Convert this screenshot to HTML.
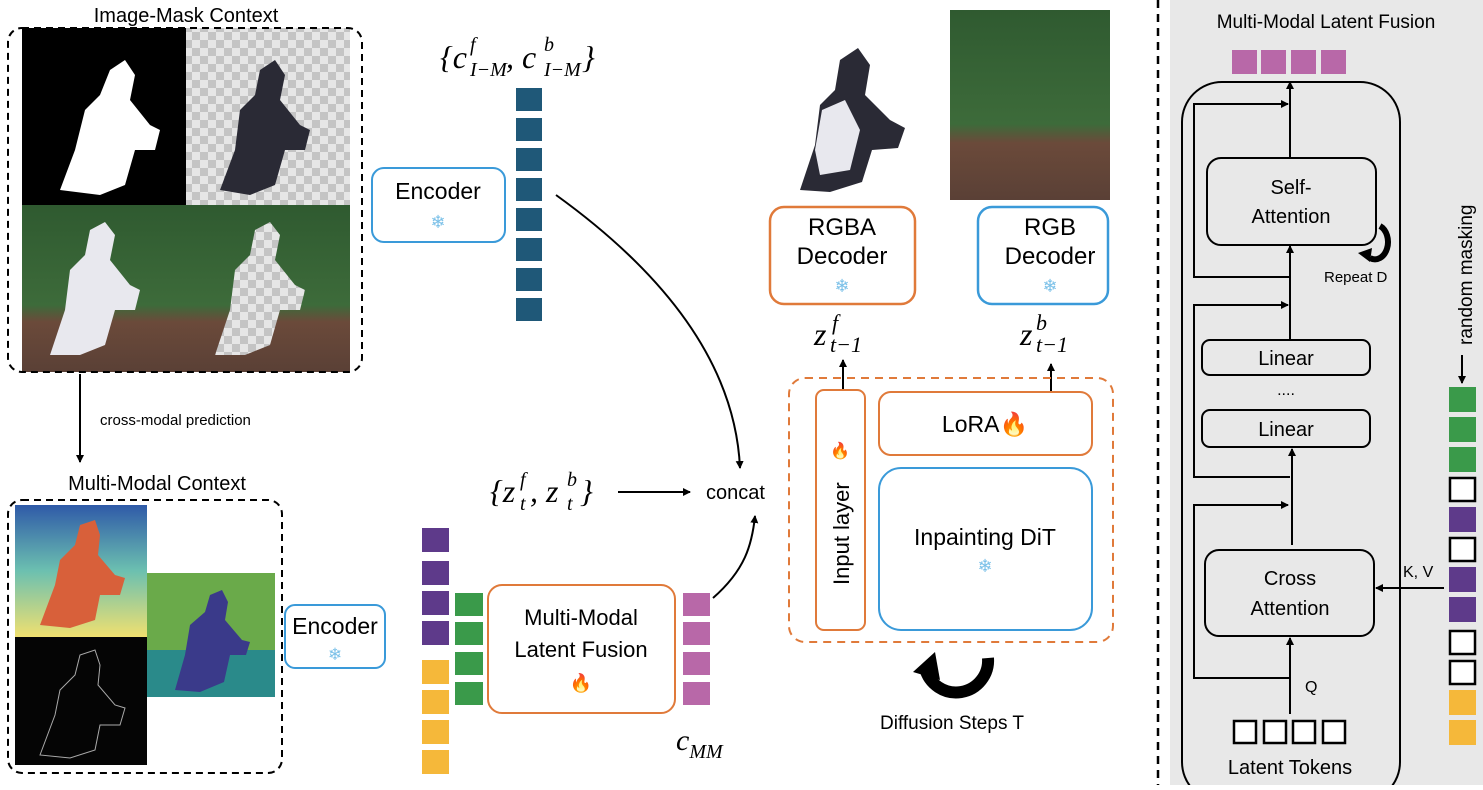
<!DOCTYPE html>
<html><head><meta charset="utf-8"><style>
body{margin:0;background:#fff}
svg text{font-family:"Liberation Sans",sans-serif}
.m{font-family:"Liberation Serif",serif;font-style:italic}
</style></head><body>
<svg width="1483" height="785" viewBox="0 0 1483 785" xmlns="http://www.w3.org/2000/svg">
<defs>
<marker id="a" markerWidth="8" markerHeight="8" refX="7" refY="4" orient="auto" markerUnits="userSpaceOnUse"><path d="M0,0 L8,4 L0,8 z" fill="#000"/></marker>
<pattern id="ck" width="16" height="16" patternUnits="userSpaceOnUse"><rect width="16" height="16" fill="#e6e6e6"/><rect width="8" height="8" fill="#c4c4c4"/><rect x="8" y="8" width="8" height="8" fill="#c4c4c4"/></pattern>
<linearGradient id="fld" x1="0" y1="0" x2="0" y2="1"><stop offset="0" stop-color="#2f5a30"/><stop offset="0.6" stop-color="#3d6b3a"/><stop offset="0.7" stop-color="#6b4a3a"/><stop offset="1" stop-color="#5a4036"/></linearGradient>
<linearGradient id="dep" x1="0" y1="0" x2="0" y2="1"><stop offset="0" stop-color="#2f5aa8"/><stop offset="0.5" stop-color="#6cc0b0"/><stop offset="1" stop-color="#f0e070"/></linearGradient>
</defs>

<text x="186" y="22" font-size="20" text-anchor="middle">Image-Mask Context</text>
<rect x="22" y="28" width="164" height="177" fill="#000"/>
<path d="M60,190 L75,150 L85,110 L100,95 L110,70 L125,60 L135,75 L130,100 L150,125 L160,130 L155,150 L135,150 L125,185 L100,195 Z" fill="#fff"/>
<rect x="186" y="28" width="164" height="177" fill="url(#ck)"/>
<path d="M220,190 L235,150 L240,110 L255,95 L260,70 L275,60 L285,75 L280,100 L300,125 L310,130 L305,150 L285,150 L275,185 L250,195 Z" fill="#2a2a35"/>
<rect x="22" y="205" width="164" height="167" fill="url(#fld)"/>
<path d="M50,355 L65,310 L70,270 L85,255 L90,230 L105,222 L115,235 L110,260 L130,285 L140,290 L135,310 L115,310 L105,345 L80,355 Z" fill="#e8e8ee"/>
<rect x="186" y="205" width="164" height="167" fill="url(#fld)"/>
<path d="M215,355 L230,310 L235,270 L250,255 L255,230 L270,222 L280,235 L275,260 L295,285 L305,290 L300,310 L280,310 L270,345 L245,355 Z" fill="url(#ck)"/>
<rect x="8" y="28" width="354" height="344" rx="14" fill="none" stroke="#000" stroke-width="2" stroke-dasharray="7,5"/>

<line x1="80" y1="374" x2="80" y2="462" stroke="#000" stroke-width="2" marker-end="url(#a)"/>
<text x="100" y="425" font-size="15">cross-modal prediction</text>

<text x="157" y="490" font-size="20" text-anchor="middle">Multi-Modal Context</text>
<rect x="15" y="505" width="132" height="132" fill="url(#dep)"/>
<path d="M40,625 L55,585 L60,560 L75,545 L80,525 L95,520 L100,535 L98,555 L115,575 L125,578 L120,595 L100,595 L95,620 L70,628 Z" fill="#d8603a"/>
<rect x="147" y="573" width="128" height="124" fill="#6aaa4a"/>
<rect x="147" y="650" width="128" height="47" fill="#2a8a8a"/>
<path d="M175,690 L185,655 L190,625 L205,612 L210,595 L222,590 L228,602 L225,620 L242,640 L250,642 L246,655 L230,655 L224,682 L200,692 Z" fill="#3a3a8a"/>
<rect x="15" y="637" width="132" height="128" fill="#050505"/>
<path d="M40,755 L55,715 L60,690 L75,675 L80,655 L95,650 L100,665 L98,685 L115,705 L125,708 L120,725 L100,725 L95,750 L70,758 Z" fill="none" stroke="#aaa" stroke-width="1"/>
<rect x="8" y="500" width="274" height="273" rx="14" fill="none" stroke="#000" stroke-width="2" stroke-dasharray="7,5"/>

<rect x="372" y="168" width="133" height="74" rx="12" fill="#fff" stroke="#3a9ad9" stroke-width="2"/>
<text x="438" y="199" font-size="23" text-anchor="middle">Encoder</text>
<text x="438" y="228" font-size="18" text-anchor="middle" fill="#7ac0e8">❄</text>
<rect x="285" y="605" width="100" height="63" rx="10" fill="#fff" stroke="#3a9ad9" stroke-width="2"/>
<text x="335" y="634" font-size="23" text-anchor="middle">Encoder</text>
<text x="335" y="660" font-size="17" text-anchor="middle" fill="#7ac0e8">❄</text>

<g class="m">
<text x="440" y="68" font-size="32" class="m">{c</text>
<text x="470" y="51" font-size="20" class="m">f</text>
<text x="470" y="76" font-size="20" class="m">I−M</text>
<text x="506" y="68" font-size="32" class="m">, c</text>
<text x="544" y="51" font-size="20" class="m">b</text>
<text x="544" y="76" font-size="20" class="m">I−M</text>
<text x="582" y="68" font-size="32" class="m">}</text>
</g>

<g fill="#1f5878">
<rect x="516" y="88" width="26" height="23"/><rect x="516" y="118" width="26" height="23"/><rect x="516" y="148" width="26" height="23"/><rect x="516" y="178" width="26" height="23"/><rect x="516" y="208" width="26" height="23"/><rect x="516" y="238" width="26" height="23"/><rect x="516" y="268" width="26" height="23"/><rect x="516" y="298" width="26" height="23"/>
</g>
<path d="M556,195 C660,270 735,360 740,468" fill="none" stroke="#000" stroke-width="2" marker-end="url(#a)"/>

<g fill="#5e3a8a"><rect x="422" y="528" width="27" height="24"/><rect x="422" y="561" width="27" height="24"/><rect x="422" y="591" width="27" height="24"/><rect x="422" y="621" width="27" height="24"/></g>
<g fill="#f5b83a"><rect x="422" y="660" width="27" height="24"/><rect x="422" y="690" width="27" height="24"/><rect x="422" y="720" width="27" height="24"/><rect x="422" y="750" width="27" height="24"/></g>
<g fill="#3a9a4a"><rect x="455" y="593" width="28" height="23"/><rect x="455" y="622" width="28" height="23"/><rect x="455" y="652" width="28" height="23"/><rect x="455" y="682" width="28" height="23"/></g>
<rect x="488" y="585" width="187" height="128" rx="14" fill="#fff" stroke="#e07a3a" stroke-width="2"/>
<text x="581" y="625" font-size="22" text-anchor="middle">Multi-Modal</text>
<text x="581" y="657" font-size="22" text-anchor="middle">Latent Fusion</text>
<text x="581" y="689" font-size="18" text-anchor="middle">🔥</text>
<g fill="#b868a8"><rect x="683" y="593" width="27" height="23"/><rect x="683" y="622" width="27" height="23"/><rect x="683" y="652" width="27" height="23"/><rect x="683" y="682" width="27" height="23"/></g>
<text x="676" y="750" font-size="30" class="m">c<tspan font-size="20" dy="8">MM</tspan></text>
<path d="M713,598 C745,570 752,545 755,516" fill="none" stroke="#000" stroke-width="2" marker-end="url(#a)"/>

<text x="490" y="502" font-size="32" class="m">{z</text>
<text x="520" y="486" font-size="20" class="m">f</text>
<text x="520" y="510" font-size="20" class="m">t</text>
<text x="530" y="502" font-size="32" class="m">, z</text>
<text x="567" y="486" font-size="20" class="m">b</text>
<text x="567" y="510" font-size="20" class="m">t</text>
<text x="580" y="502" font-size="32" class="m">}</text>
<line x1="618" y1="492" x2="690" y2="492" stroke="#000" stroke-width="2" marker-end="url(#a)"/>
<text x="706" y="499" font-size="20">concat</text>

<path d="M800,190 L815,145 L820,105 L835,90 L840,60 L858,48 L870,65 L865,95 L890,120 L905,128 L898,148 L872,150 L862,182 L830,192 Z" fill="#2a2a35"/>
<path d="M815,150 L822,110 L845,100 L860,130 L850,170 L820,175Z" fill="#e8e8ee"/>
<rect x="950" y="10" width="160" height="190" fill="url(#fld)"/>

<rect x="770" y="207" width="145" height="97" rx="14" fill="#fff" stroke="#e07a3a" stroke-width="2.5"/>
<text x="842" y="235" font-size="24" text-anchor="middle">RGBA</text>
<text x="842" y="264" font-size="24" text-anchor="middle">Decoder</text>
<text x="842" y="292" font-size="18" text-anchor="middle" fill="#7ac0e8">❄</text>
<rect x="978" y="207" width="130" height="97" rx="14" fill="#fff" stroke="#3a9ad9" stroke-width="2.5"/>
<text x="1050" y="235" font-size="24" text-anchor="middle">RGB</text>
<text x="1050" y="264" font-size="24" text-anchor="middle">Decoder</text>
<text x="1050" y="292" font-size="18" text-anchor="middle" fill="#7ac0e8">❄</text>
<text x="814" y="345" font-size="32" class="m">z</text>
<text x="832" y="330" font-size="22" class="m">f</text>
<text x="830" y="352" font-size="22" class="m">t−1</text>
<text x="1020" y="345" font-size="32" class="m">z</text>
<text x="1036" y="330" font-size="22" class="m">b</text>
<text x="1036" y="352" font-size="22" class="m">t−1</text>
<line x1="843" y1="390" x2="843" y2="360" stroke="#000" stroke-width="2" marker-end="url(#a)"/>
<line x1="1051" y1="392" x2="1051" y2="364" stroke="#000" stroke-width="2" marker-end="url(#a)"/>

<rect x="789" y="378" width="324" height="264" rx="16" fill="none" stroke="#e07a3a" stroke-width="2" stroke-dasharray="8,6"/>
<rect x="816" y="390" width="49" height="240" rx="8" fill="#fff" stroke="#e07a3a" stroke-width="2"/>
<text transform="translate(849,585) rotate(-90)" font-size="22">Input layer</text>
<text x="840" y="456" font-size="16" text-anchor="middle">🔥</text>
<rect x="879" y="392" width="213" height="63" rx="12" fill="#fff" stroke="#e07a3a" stroke-width="2"/>
<text x="985" y="432" font-size="23" text-anchor="middle">LoRA🔥</text>
<rect x="879" y="468" width="213" height="162" rx="22" fill="#fff" stroke="#3a9ad9" stroke-width="2"/>
<text x="985" y="545" font-size="23" text-anchor="middle">Inpainting DiT</text>
<text x="985" y="572" font-size="18" text-anchor="middle" fill="#7ac0e8">❄</text>
<path d="M925,668 A32,32 0 0 0 988,658" fill="none" stroke="#000" stroke-width="12"/>
<path d="M913,672 L935,652 L940,680 Z" fill="#000"/>
<text x="952" y="729" font-size="19" text-anchor="middle">Diffusion Steps T</text>

<line x1="1158" y1="0" x2="1158" y2="785" stroke="#000" stroke-width="2.5" stroke-dasharray="8,6"/>
<rect x="1170" y="0" width="313" height="785" fill="#e8e8e8"/>
<text x="1326" y="28" font-size="19" text-anchor="middle">Multi-Modal Latent Fusion</text>
<g fill="#b868a8"><rect x="1232" y="50" width="25" height="24"/><rect x="1261" y="50" width="25" height="24"/><rect x="1291" y="50" width="25" height="24"/><rect x="1321" y="50" width="25" height="24"/></g>
<rect x="1182" y="82" width="218" height="720" rx="40" fill="none" stroke="#000" stroke-width="2"/>

<g stroke="#000" stroke-width="2" fill="none">
<line x1="1290" y1="158" x2="1290" y2="82" marker-end="url(#a)"/>
<polyline points="1290,277 1194,277 1194,104 1288,104" marker-end="url(#a)"/>
<line x1="1290" y1="340" x2="1290" y2="246" marker-end="url(#a)"/>
<polyline points="1290,477 1194,477 1194,305 1288,305" marker-end="url(#a)"/>
<line x1="1292" y1="545" x2="1292" y2="449" marker-end="url(#a)"/>
<polyline points="1290,678 1194,678 1194,505 1288,505" marker-end="url(#a)"/>
<line x1="1290" y1="714" x2="1290" y2="638" marker-end="url(#a)"/>
<line x1="1444" y1="588" x2="1376" y2="588" marker-end="url(#a)"/>
<line x1="1462" y1="355" x2="1462" y2="383" marker-end="url(#a)"/>
</g>
<path d="M1380,226 A12,16 0 0 1 1370,258" fill="none" stroke="#000" stroke-width="6"/>
<path d="M1358,253 L1372,248 L1370,262 Z" fill="#000"/>

<rect x="1207" y="158" width="169" height="87" rx="14" fill="#e8e8e8" stroke="#000" stroke-width="2"/>
<text x="1291" y="194" font-size="20" text-anchor="middle">Self-</text>
<text x="1291" y="223" font-size="20" text-anchor="middle">Attention</text>
<text x="1324" y="282" font-size="15">Repeat D</text>
<rect x="1202" y="340" width="168" height="35" rx="8" fill="#e8e8e8" stroke="#000" stroke-width="2"/>
<text x="1286" y="365" font-size="20" text-anchor="middle">Linear</text>
<text x="1286" y="395" font-size="16" text-anchor="middle">....</text>
<rect x="1202" y="410" width="168" height="37" rx="8" fill="#e8e8e8" stroke="#000" stroke-width="2"/>
<text x="1286" y="436" font-size="20" text-anchor="middle">Linear</text>
<rect x="1205" y="550" width="169" height="86" rx="14" fill="#e8e8e8" stroke="#000" stroke-width="2"/>
<text x="1290" y="585" font-size="20" text-anchor="middle">Cross</text>
<text x="1290" y="615" font-size="20" text-anchor="middle">Attention</text>
<text x="1403" y="577" font-size="16">K, V</text>
<text x="1305" y="692" font-size="16">Q</text>
<g fill="#fff" stroke="#000" stroke-width="2.5"><rect x="1234" y="721" width="22" height="22"/><rect x="1264" y="721" width="22" height="22"/><rect x="1293" y="721" width="22" height="22"/><rect x="1323" y="721" width="22" height="22"/></g>
<text x="1290" y="774" font-size="20" text-anchor="middle">Latent Tokens</text>
<text transform="translate(1472,345) rotate(-90)" font-size="19">random masking</text>

<g>
<rect x="1449" y="387" width="27" height="25" fill="#3a9a4a"/>
<rect x="1449" y="417" width="27" height="25" fill="#3a9a4a"/>
<rect x="1449" y="447" width="27" height="25" fill="#3a9a4a"/>
<rect x="1450" y="478" width="25" height="23" fill="#fff" stroke="#000" stroke-width="2.5"/>
<rect x="1449" y="507" width="27" height="25" fill="#5e3a8a"/>
<rect x="1450" y="538" width="25" height="23" fill="#fff" stroke="#000" stroke-width="2.5"/>
<rect x="1449" y="567" width="27" height="25" fill="#5e3a8a"/>
<rect x="1449" y="597" width="27" height="25" fill="#5e3a8a"/>
<rect x="1450" y="631" width="25" height="23" fill="#fff" stroke="#000" stroke-width="2.5"/>
<rect x="1450" y="661" width="25" height="23" fill="#fff" stroke="#000" stroke-width="2.5"/>
<rect x="1449" y="690" width="27" height="25" fill="#f5b83a"/>
<rect x="1449" y="720" width="27" height="25" fill="#f5b83a"/>
</g>
</svg>
</body></html>
